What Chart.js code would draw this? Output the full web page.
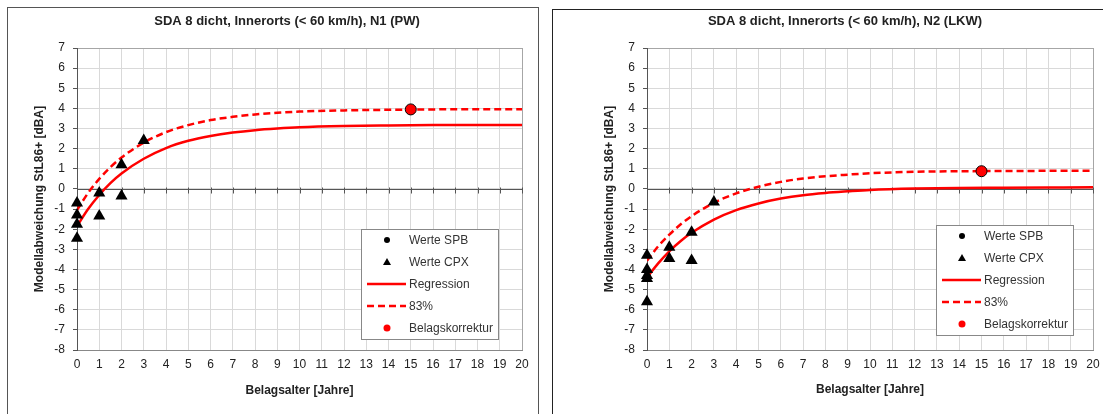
<!DOCTYPE html>
<html>
<head>
<meta charset="utf-8">
<script src="https://cdn.jsdelivr.net/npm/chart.js@4.4.1/dist/chart.umd.min.js"></script>
<style>
  body { margin: 0; width: 1103px; height: 414px; overflow: hidden; background: #fff; position: relative; }
  .frame { position: absolute; box-sizing: border-box; }
  #frameN1 { left: 7px; top: 7px; width: 532px; height: 440px; border: 1px solid #555; }
  #frameN2 { left: 552px; top: 9px; width: 580px; height: 440px; border: 1px solid #222; }
  canvas { position: absolute; }
  #chartN1 { left: 8px; top: 8px; }
  #chartN2 { left: 553px; top: 10px; }
</style>
</head>
<body>
<div class="frame" id="frameN1"></div>
<div class="frame" id="frameN2"></div>
<canvas id="chartN1" width="530" height="406"></canvas>
<canvas id="chartN2" width="550" height="404"></canvas>
<script>
// ─── Data ────────────────────────────────────────────────────────────────────

// Belagsalter [Jahre] where the curves were read
const curveYears = [0, 0.5, 1, 1.5, 2, 3, 4, 5, 6, 7, 8, 9, 10, 12, 14, 16, 18, 20];

// N1 (PW)
const n1Regression = [-1.85, -1.0, -0.3, 0.29, 0.77, 1.5, 2.03, 2.39, 2.63, 2.8, 2.92, 3.0, 3.06, 3.12, 3.15, 3.17, 3.18, 3.18];
const n1Upper83 = [-1.05, -0.2, 0.5, 1.08, 1.56, 2.3, 2.82, 3.17, 3.42, 3.58, 3.7, 3.78, 3.84, 3.9, 3.93, 3.95, 3.96, 3.96];
const n1CpxYears = [0, 0, 0, 0, 1, 1, 2, 2, 3];
const n1CpxValues = [-0.7, -1.3, -1.75, -2.45, -0.2, -1.35, 1.2, -0.35, 2.4];
const n1KorrYears = [15];
const n1KorrValues = [3.95];

// N2 (LKW)
const n2Regression = [-4.4, -3.7, -3.1, -2.6, -2.18, -1.52, -1.05, -0.72, -0.48, -0.31, -0.2, -0.12, -0.05, 0.02, 0.05, 0.06, 0.07, 0.08];
const n2Upper83 = [-3.57, -2.85, -2.27, -1.77, -1.35, -0.69, -0.22, 0.11, 0.35, 0.52, 0.63, 0.71, 0.78, 0.85, 0.88, 0.89, 0.9, 0.91];
const n2CpxYears = [0, 0, 0, 0, 0, 1, 1, 2, 2, 3];
const n2CpxValues = [-3.3, -4.0, -4.3, -4.45, -5.6, -2.9, -3.45, -2.15, -3.55, -0.65];
const n2KorrYears = [15];
const n2KorrValues = [0.88];

// Werte SPB: listed in the legend, no points in either chart
const spbYears = [];
const spbValues = [];

// Axes
const xMin = 0, xMax = 20;
const yMin = -8, yMax = 7;

const legendLabels = ['Werte SPB', 'Werte CPX', 'Regression', '83%', 'Belagskorrektur'];

// ─── Helpers ─────────────────────────────────────────────────────────────────

const FONT = '"Liberation Sans", Arial, sans-serif';
const RED = '#ff0000';
const TEXT = '#222';

function pts(xs, ys) {
  return xs.map((x, i) => ({ x, y: ys[i] }));
}

// Chart title at a fixed spot inside the frame
const boxTitle = {
  id: 'boxTitle',
  afterDraw(chart, args, opts) {
    const ctx = chart.ctx;
    ctx.save();
    ctx.font = 'bold 13px ' + FONT;
    ctx.fillStyle = TEXT;
    ctx.textAlign = 'center';
    ctx.textBaseline = 'middle';
    ctx.fillText(opts.text, opts.x, opts.y);
    ctx.restore();
  }
};

// Dark horizontal axis crossing at 0, with tick marks
const zeroAxis = {
  id: 'zeroAxis',
  beforeDatasetsDraw(chart) {
    const { ctx, chartArea, scales: { x, y } } = chart;
    const y0 = Math.round(y.getPixelForValue(0)) + 0.5;
    ctx.save();
    ctx.strokeStyle = '#555';
    ctx.lineWidth = 1;
    ctx.beginPath();
    ctx.moveTo(chartArea.left, y0);
    ctx.lineTo(chartArea.right, y0);
    x.ticks.forEach(t => {
      const px = Math.round(x.getPixelForValue(t.value)) + 0.5;
      ctx.moveTo(px, y0 - 2);
      ctx.lineTo(px, y0 + 4);
    });
    ctx.stroke();
    ctx.restore();
  }
};

// Boxed legend inside the plot area
const boxLegend = {
  id: 'boxLegend',
  afterDraw(chart, args, opts) {
    const ctx = chart.ctx;
    const { x, y, w, h } = opts;
    ctx.save();
    ctx.fillStyle = '#fff';
    ctx.fillRect(x, y, w, h);
    ctx.strokeStyle = '#888';
    ctx.lineWidth = 1;
    ctx.strokeRect(x + 0.5, y + 0.5, w, h);

    ctx.font = '12px ' + FONT;
    ctx.textBaseline = 'middle';
    ctx.textAlign = 'left';
    legendLabels.forEach((label, i) => {
      const cy = y + 11 + i * 22;
      const sx = x + 26;
      if (i === 0) {
        ctx.fillStyle = '#000';
        ctx.beginPath();
        ctx.arc(sx, cy, 3, 0, Math.PI * 2);
        ctx.fill();
      } else if (i === 1) {
        ctx.fillStyle = '#000';
        ctx.beginPath();
        ctx.moveTo(sx, cy - 4);
        ctx.lineTo(sx + 4, cy + 3);
        ctx.lineTo(sx - 4, cy + 3);
        ctx.closePath();
        ctx.fill();
      } else if (i === 2 || i === 3) {
        ctx.strokeStyle = RED;
        ctx.lineWidth = 2.5;
        ctx.setLineDash(i === 3 ? [7, 4] : []);
        ctx.beginPath();
        ctx.moveTo(x + 6, cy);
        ctx.lineTo(x + 45, cy);
        ctx.stroke();
        ctx.setLineDash([]);
      } else {
        ctx.fillStyle = RED;
        ctx.beginPath();
        ctx.arc(sx, cy, 3.5, 0, Math.PI * 2);
        ctx.fill();
      }
      ctx.fillStyle = '#333';
      ctx.fillText(label, x + 48, cy + 1);
    });
    ctx.restore();
  }
};

function makeChart(canvasId, cfg) {
  const ctx = document.getElementById(canvasId).getContext('2d');
  return new Chart(ctx, {
    type: 'scatter',
    data: {
      datasets: [
        {
          label: 'Werte SPB',
          data: pts(spbYears, spbValues),
          pointStyle: 'circle',
          pointRadius: 4,
          backgroundColor: '#000',
          borderColor: '#000',
          clip: false,
          order: 0,
        },
        {
          label: 'Werte CPX',
          data: pts(cfg.cpxYears, cfg.cpxValues),
          pointStyle: 'triangle',
          pointRadius: 7,
          backgroundColor: '#000',
          borderColor: '#000',
          borderWidth: 0,
          clip: false,
          order: 0,
        },
        {
          label: 'Regression',
          data: pts(curveYears, cfg.regression),
          showLine: true,
          pointRadius: 0,
          borderColor: RED,
          borderWidth: 2.5,
          cubicInterpolationMode: 'monotone',
          order: 2,
        },
        {
          label: '83%',
          data: pts(curveYears, cfg.upper),
          showLine: true,
          pointRadius: 0,
          borderColor: RED,
          borderWidth: 2.5,
          borderDash: [7, 4],
          cubicInterpolationMode: 'monotone',
          order: 2,
        },
        {
          label: 'Belagskorrektur',
          data: pts(cfg.korrYears, cfg.korrValues),
          pointStyle: 'circle',
          pointRadius: 5.5,
          backgroundColor: RED,
          borderColor: '#000',
          borderWidth: 1,
          clip: false,
          order: 0,
        },
      ],
    },
    options: {
      responsive: false,
      animation: false,
      devicePixelRatio: 1,
      layout: { padding: cfg.padding },
      plugins: {
        legend: { display: false },
        tooltip: { enabled: false },
        boxTitle: cfg.title,
        boxLegend: cfg.legend,
      },
      scales: {
        x: {
          type: 'linear',
          position: 'bottom',
          min: xMin,
          max: xMax,
          afterFit: s => {
            s.height = cfg.xAxisHeight;
            // let the layout padding alone decide the right edge
            s.paddingLeft = 0;
            s.paddingRight = 0;
          },
          grid: {
            color: c => (c.tick && c.tick.value === xMax ? '#a6a6a6' : '#d9d9d9'),
            drawTicks: false,
          },
          border: { color: '#888', width: 1 },
          ticks: {
            stepSize: 1,
            autoSkip: false,
            maxRotation: 0,
            padding: 7,
            color: TEXT,
            font: { family: FONT, size: 12 },
          },
          title: {
            display: true,
            text: 'Belagsalter [Jahre]',
            color: TEXT,
            font: { family: FONT, size: 12, weight: 'bold' },
            padding: { top: 0, bottom: cfg.xTitlePad },
          },
        },
        y: {
          min: yMin,
          max: yMax,
          afterFit: s => { s.width = cfg.yAxisWidth; },
          grid: {
            color: c => (c.tick && c.tick.value === yMax ? '#a6a6a6' : '#d9d9d9'),
            tickLength: 4,
            tickColor: '#555',
          },
          border: { color: '#555', width: 1 },
          ticks: {
            stepSize: 1,
            padding: 8,
            color: TEXT,
            font: { family: FONT, size: 12 },
          },
          title: {
            display: true,
            text: 'Modellabweichung StL86+ [dBA]',
            color: TEXT,
            font: { family: FONT, size: 12, weight: 'bold' },
            padding: { top: cfg.yTitlePad, bottom: 0 },
          },
        },
      },
    },
    plugins: [zeroAxis, boxTitle, boxLegend],
  });
}

makeChart('chartN1', {
  regression: n1Regression,
  upper: n1Upper83,
  cpxYears: n1CpxYears,
  cpxValues: n1CpxValues,
  korrYears: n1KorrYears,
  korrValues: n1KorrValues,
  padding: { top: 40, right: 16, bottom: 0, left: 0 },
  yAxisWidth: 69,
  xAxisHeight: 64,
  yTitlePad: 24,
  xTitlePad: 16,
  title: { text: 'SDA 8 dicht, Innerorts (< 60 km/h), N1 (PW)', x: 279, y: 13 },
  legend: { x: 353, y: 221, w: 137, h: 110 },
});

makeChart('chartN2', {
  regression: n2Regression,
  upper: n2Upper83,
  cpxYears: n2CpxYears,
  cpxValues: n2CpxValues,
  korrYears: n2KorrYears,
  korrValues: n2KorrValues,
  padding: { top: 38, right: 10, bottom: 0, left: 0 },
  yAxisWidth: 94,
  xAxisHeight: 64,
  yTitlePad: 49,
  xTitlePad: 17,
  title: { text: 'SDA 8 dicht, Innerorts (< 60 km/h), N2 (LKW)', x: 292, y: 11 },
  legend: { x: 383, y: 215, w: 137, h: 110 },
});
</script>
</body>
</html>
